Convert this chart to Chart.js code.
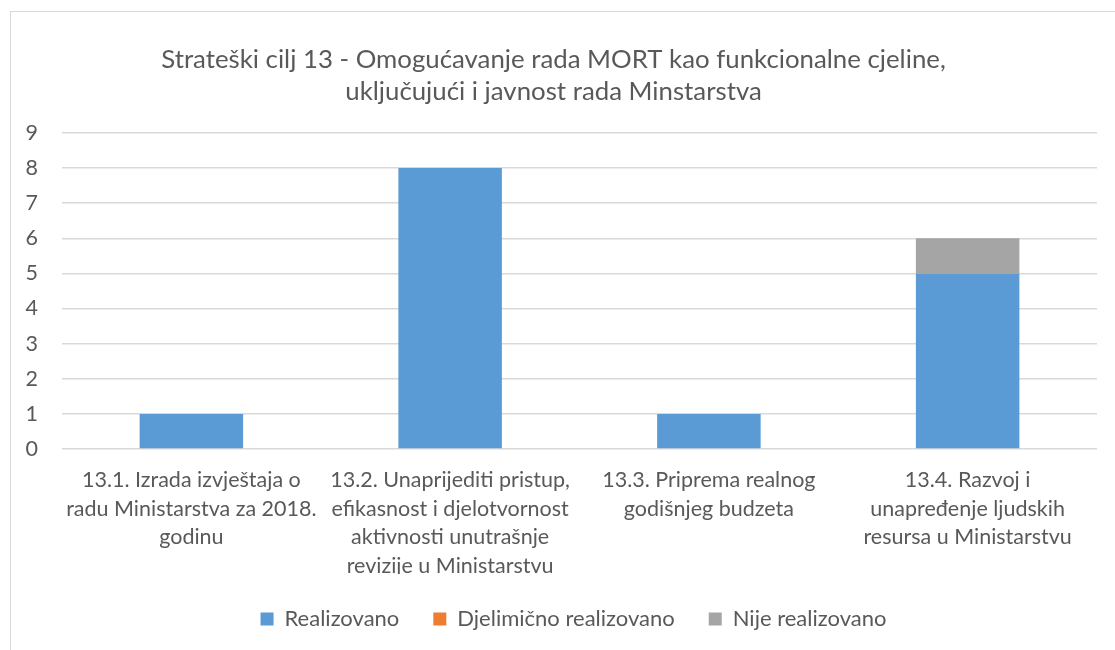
<!DOCTYPE html>
<html>
<head>
<meta charset="utf-8">
<script src="https://cdn.jsdelivr.net/npm/chart.js@4.4.1/dist/chart.umd.min.js"></script>
<style>
  html, body { margin: 0; padding: 0; background: #fff; }
  #wrap { position: relative; width: 1115px; height: 650px; overflow: hidden; }
  #frame { position: absolute; left: 10px; top: 11px; width: 1200px; height: 700px; border: 1px solid #d9d9d9; box-sizing: border-box; }
  canvas { position: absolute; left: 0; top: 0; }
</style>
</head>
<body>
<div id="wrap">
  <div id="frame"></div>
  <canvas id="c" width="1115" height="650"></canvas>
</div>
<script>
const titleLines = ["Strateški cilj 13 - Omogućavanje rada MORT kao funkcionalne cjeline,", "uključujući i javnost rada Minstarstva"];
const categories = [
  ["13.1. Izrada izvještaja o", "radu Ministarstva za 2018.", "godinu"],
  ["13.2. Unaprijediti pristup,", "efikasnost i djelotvornost", "aktivnosti unutrašnje", "revizije u Ministarstvu"],
  ["13.3. Priprema realnog", "godišnjeg budzeta"],
  ["13.4. Razvoj i", "unapređenje ljudskih", "resursa u Ministarstvu"]
];
const realizovano = [1, 8, 1, 5];
const djelimicno = [0, 0, 0, 0];
const nijeRealizovano = [0, 0, 0, 1];
const yTicks = [0, 1, 2, 3, 4, 5, 6, 7, 8, 9];

const textColor = '#595959';
const fontFamily = 'Lato, "Open Sans", sans-serif';
Chart.defaults.font.family = fontFamily;
Chart.defaults.color = textColor;

const legendShift = {
  id: 'legendShift',
  afterLayout(chart) {
    if (chart.legend) { chart.legend.left += 20; chart.legend.right += 20; }
  }
};

new Chart(document.getElementById('c'), {
  type: 'bar',
  data: {
    labels: categories,
    datasets: [
      { label: 'Realizovano', data: realizovano, backgroundColor: '#5B9BD5', barPercentage: 0.4, categoryPercentage: 1 },
      { label: 'Djelimično realizovano', data: djelimicno, backgroundColor: '#ED7D31', barPercentage: 0.4, categoryPercentage: 1 },
      { label: 'Nije realizovano', data: nijeRealizovano, backgroundColor: '#A5A5A5', barPercentage: 0.4, categoryPercentage: 1 }
    ]
  },
  plugins: [legendShift],
  options: {
    responsive: false,
    animation: false,
    layout: { padding: { left: 10, right: 18, top: 0, bottom: 10 } },
    plugins: {
      title: {
        display: true,
        text: titleLines,
        color: textColor,
        font: { size: 25.8, weight: 'normal', lineHeight: 1.24 },
        padding: { top: 44, bottom: 25 }
      },
      legend: {
        position: 'bottom',
        labels: {
          boxWidth: 13, boxHeight: 13, padding: 34,
          font: { size: 22 }, color: textColor
        }
      },
      tooltip: { enabled: false }
    },
    scales: {
      x: {
        stacked: true,
        grid: { display: false, drawTicks: false },
        border: { display: false },
        ticks: { autoSkip: false, maxRotation: 0, minRotation: 0, padding: 17, font: { size: 21.5, lineHeight: 1.33 }, color: textColor },
        afterFit: (s) => { s.height = 125; }
      },
      y: {
        stacked: true,
        min: 0, max: 9,
        afterBuildTicks: (s) => { s.ticks = yTicks.map(v => ({ value: v })); },
        grid: { color: '#d9d9d9', lineWidth: 1.5, drawTicks: false },
        border: { display: false },
        ticks: { padding: 24, font: { size: 21.5 }, color: textColor },
        afterFit: (s) => { s.width = 52; }
      }
    }
  }
});
</script>
</body>
</html>
